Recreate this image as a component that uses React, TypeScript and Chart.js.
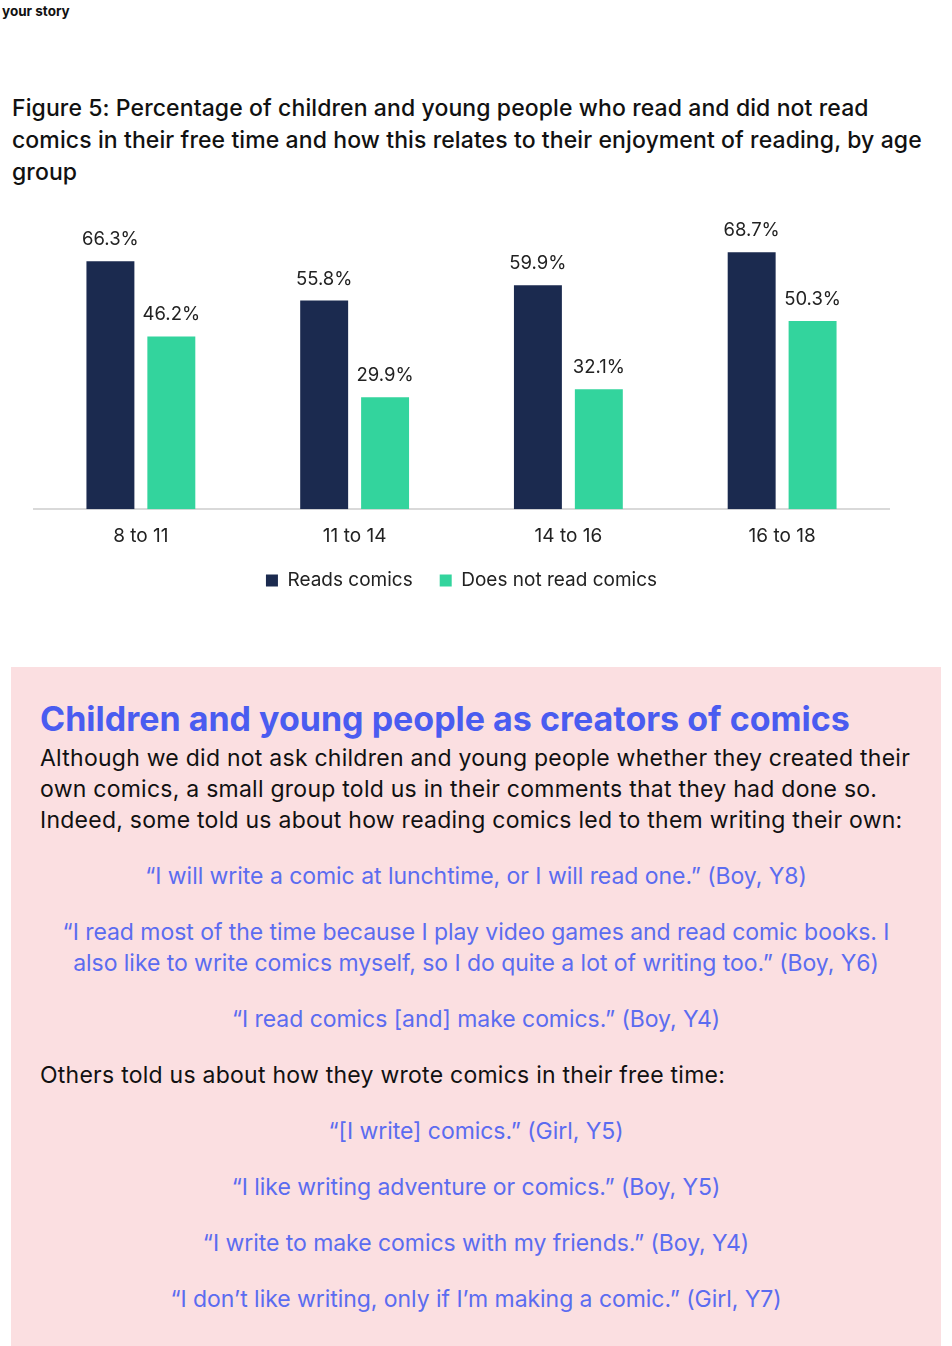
import { useEffect, useRef } from 'react';
import Chart from 'chart.js/auto';

const ageGroups = ['8 to 11', '11 to 14', '14 to 16', '16 to 18'];
const readsComics = [66.3, 55.8, 59.9, 68.7];
const doesNotRead = [46.2, 29.9, 32.1, 50.3];
const seriesNames = ['Reads comics', 'Does not read comics'];

const NAVY = '#1b2a4f';
const GREEN = '#33d49d';
const FONT = 'Inter, "Noto Sans", sans-serif';

// each inner array is one paragraph, split into its printed lines
const quotesA = [
  ['\u201cI will write a comic at lunchtime, or I will read one.\u201d (Boy, Y8)'],
  [
    '\u201cI read most of the time because I play video games and read comic books. I',
    'also like to write comics myself, so I do quite a lot of writing too.\u201d (Boy, Y6)',
  ],
  ['\u201cI read comics [and] make comics.\u201d (Boy, Y4)'],
];
const quotesB = [
  ['\u201c[I write] comics.\u201d (Girl, Y5)'],
  ['\u201cI like writing adventure or comics.\u201d (Boy, Y5)'],
  ['\u201cI write to make comics with my friends.\u201d (Boy, Y4)'],
  ['\u201cI don\u2019t like writing, only if I\u2019m making a comic.\u201d (Girl, Y7)'],
];
const introLines = [
  'Although we did not ask children and young people whether they created their',
  'own comics, a small group told us in their comments that they had done so.',
  'Indeed, some told us about how reading comics led to them writing their own:',
];
const titleLines = [
  'Figure 5: Percentage of children and young people who read and did not read',
  'comics in their free time and how this relates to their enjoyment of reading, by age',
  'group',
];

// percentage labels over each bar
const valueLabels = {
  id: 'valueLabels',
  afterDatasetsDraw(chart: Chart) {
    const ctx = chart.ctx;
    ctx.save();
    ctx.font = `18.5px ${FONT}`;
    ctx.fillStyle = '#222222';
    ctx.textAlign = 'center';
    ctx.textBaseline = 'alphabetic';
    chart.data.datasets.forEach((ds, i) => {
      chart.getDatasetMeta(i).data.forEach((bar: any, j) => {
        ctx.fillText(`${(ds.data[j] as number).toFixed(1)}%`, bar.x, bar.y - 16);
      });
    });
    ctx.restore();
  },
};

function ComicsChart() {
  const canvasRef = useRef<HTMLCanvasElement | null>(null);
  const chartRef = useRef<Chart | null>(null);

  useEffect(() => {
    if (!canvasRef.current) return;
    chartRef.current = new Chart(canvasRef.current, {
      type: 'bar',
      data: {
        labels: ageGroups,
        datasets: [
          { label: seriesNames[0], data: readsComics, backgroundColor: NAVY },
          { label: seriesNames[1], data: doesNotRead, backgroundColor: GREEN },
        ],
      },
      options: {
        animation: false,
        responsive: true,
        maintainAspectRatio: false,
        categoryPercentage: 0.57,
        barPercentage: 0.787,
        layout: { padding: { left: 34, right: 63, top: 10, bottom: 0 } },
        plugins: {
          legend: {
            position: 'bottom',
            labels: {
              boxWidth: 12,
              boxHeight: 12,
              padding: 27,
              color: '#222222',
              font: { family: FONT, size: 19 },
            },
          },
          tooltip: { enabled: false },
        },
        scales: {
          x: {
            grid: { display: false, drawTicks: false },
            border: { display: true, color: '#d9d9d9', width: 2 },
            ticks: { color: '#222222', padding: 16, font: { family: FONT, size: 19 } },
            afterFit: (scale: any) => {
              scale.height -= 20;
            },
          },
          y: { display: false, min: 0, max: 80 },
        },
      },
      plugins: [valueLabels],
    });
    return () => {
      chartRef.current?.destroy();
    };
  }, []);

  return (
    <div style={{ position: 'absolute', left: 0, top: 200, width: 952, height: 400 }}>
      <canvas ref={canvasRef}></canvas>
    </div>
  );
}

function Lines({ lines }: { lines: string[] }) {
  return (
    <>
      {lines.map((l, i) => (
        <span key={i}>
          {i > 0 && <br />}
          {l}
        </span>
      ))}
    </>
  );
}

export default function App() {
  const quoteStyle: React.CSSProperties = {
    textAlign: 'center',
    color: '#5b6cf0',
    margin: '25px 0 0 0',
    whiteSpace: 'nowrap',
    letterSpacing: '-0.05px',
  };
  return (
    <div
      style={{
        position: 'absolute',
        left: 0,
        top: 0,
        width: 952,
        height: 1346,
        background: '#ffffff',
        fontFamily: FONT,
        color: '#111111',
        overflow: 'hidden',
      }}
    >
      <div style={{ position: 'absolute', left: 2, top: 3, fontSize: 13.5, fontWeight: 700 }}>your story</div>
      <div
        style={{
          position: 'absolute',
          left: 12,
          top: 92,
          width: 935,
          fontSize: 23,
          fontWeight: 500,
          lineHeight: '32px',
          letterSpacing: '0.1px',
          whiteSpace: 'nowrap',
        }}
      >
        <Lines lines={titleLines} />
      </div>
      <ComicsChart />
      <div
        style={{
          position: 'absolute',
          left: 11,
          top: 667,
          width: 930,
          height: 679,
          background: '#fbdfe1',
          boxSizing: 'border-box',
          padding: '32px 29px 0 29px',
          fontSize: 23,
          lineHeight: '31px',
          letterSpacing: '0.25px',
        }}
      >
        <div style={{ fontSize: 34, fontWeight: 700, lineHeight: '40px', color: '#4a5cf0', letterSpacing: 0 }}>
          Children and young people as creators of comics
        </div>
        <p style={{ margin: '4px 0 0 0', whiteSpace: 'nowrap' }}>
          <Lines lines={introLines} />
        </p>
        {quotesA.map((q, i) => (
          <p key={'a' + i} style={quoteStyle}>
            <Lines lines={q} />
          </p>
        ))}
        <p style={{ margin: '25px 0 0 0' }}>Others told us about how they wrote comics in their free time:</p>
        {quotesB.map((q, i) => (
          <p key={'b' + i} style={quoteStyle}>
            <Lines lines={q} />
          </p>
        ))}
      </div>
    </div>
  );
}
